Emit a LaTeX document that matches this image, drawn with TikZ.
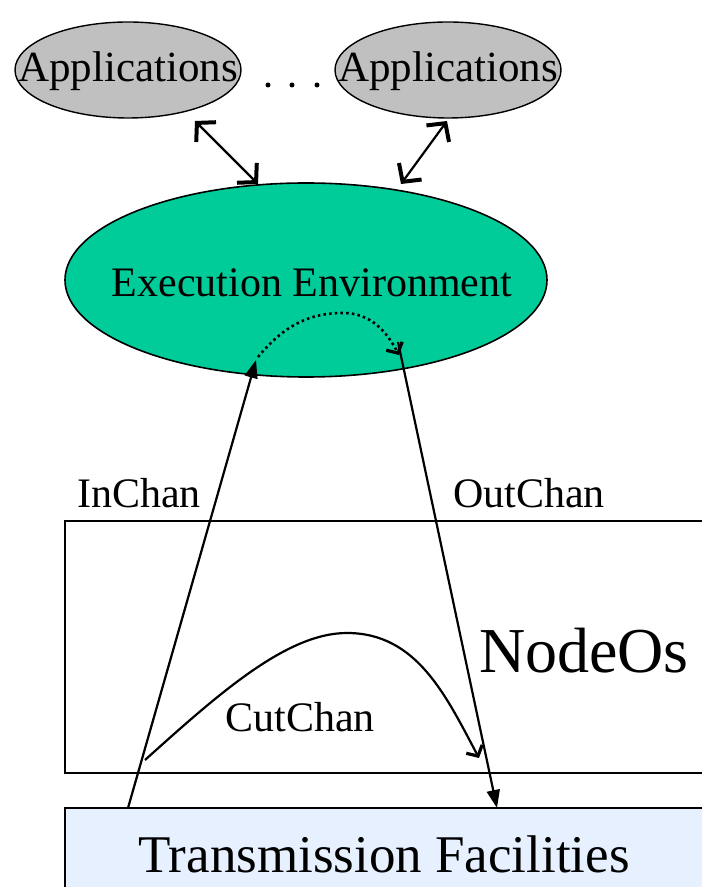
\documentclass[tikz,border=0pt]{standalone}
\usepackage{fontspec}
\setmainfont{Liberation Serif}
\usetikzlibrary{shapes.geometric,arrows.meta}
\definecolor{appgray}{RGB}{192,192,192}
\definecolor{eegreen}{RGB}{0,204,153}
\definecolor{tfblue}{RGB}{230,240,255}
\tikzset{
  appell/.style={ellipse,draw,fill=appgray,line width=1.4pt,minimum width=226pt,minimum height=96pt,inner sep=0pt},
  eeell/.style={ellipse,draw,fill=eegreen,line width=1.6pt,minimum width=482pt,minimum height=194pt,inner sep=0pt},
  labeltxt/.style={anchor=base,inner sep=0pt,font=\fontsize{42}{48}\selectfont},
  dotmark/.style={circle,fill=black,inner sep=0pt,minimum size=5pt},
  bigbarb/.tip={Straight Barb[length=13pt,width=28pt,line width=4pt]},
  smallbarb/.tip={Straight Barb[length=8pt,width=18pt,line width=3.2pt]},
  filltip/.tip={Triangle[length=18pt,width=13pt]},
  conn/.style={line width=2.2pt},
}
\begin{document}
\begin{tikzpicture}[x=1pt,y=1pt]
\useasboundingbox (0,0) rectangle (702,887);
% boxes
\draw[line width=2.6pt] (65,366) rectangle (712,114);
\node[labeltxt,font=\fontsize{64}{70}\selectfont] (nodeos) at (584,214) {NodeOs};
\draw[line width=2.6pt,fill=tfblue] (65,79) rectangle (712,-10);
\node[labeltxt,font=\fontsize{53}{60}\selectfont] (tf) at (384,15) {Transmission Facilities};
% applications
\node[appell] (app1) at (128,817) {};
\node[appell] (app2) at (448,817) {};
\node[labeltxt,font=\fontsize{43}{48}\selectfont] (app1t) at (128,805) {Applications};
\node[labeltxt,font=\fontsize{43}{48}\selectfont] (app2t) at (448,805) {Applications};
\node[dotmark] (d1) at (268,802) {};
\node[dotmark] (d2) at (292,802) {};
\node[dotmark] (d3) at (317,802) {};
% execution environment
\node[eeell] (ee) at (306,607) {};
\node[labeltxt] (eet) at (312,590) {Execution Environment};
% labels
\node[labeltxt] (inchan) at (139,379) {InChan};
\node[labeltxt] (outchan) at (529,379) {OutChan};
\node[labeltxt] (cutchan) at (300,155) {CutChan};
% coordinates
\coordinate (a1) at (195,766);
\coordinate (e1) at (258,703);
\coordinate (a2) at (447,766);
\coordinate (e2) at (401,703);
\coordinate (inS) at (128,79);
\coordinate (inE) at (256,527);
\coordinate (dS) at (258,530);
\coordinate (dP) at (343,574);
\coordinate (dE) at (399,532);
\coordinate (outS) at (398,545);
\coordinate (outE) at (497,79);
\coordinate (cS) at (145,127);
\coordinate (cP) at (347,254);
\coordinate (cE) at (479,129);
% connectors
\draw[conn,{bigbarb}-{bigbarb}] (a1) -- (e1);
\draw[conn,{bigbarb}-{bigbarb}] (a2) -- (e2);
\draw[conn,-{filltip}] (inS) -- (inE);
\draw[conn,-{filltip}] (outS) -- (outE);
\draw[line width=2.6pt,dash pattern=on 2.5pt off 3.2pt,-{smallbarb[sep=0pt]}] (dS) to[out=50,in=180] (dP) to[out=0,in=118] (dE);
\draw[conn,-{smallbarb}] (cS) .. controls +(42:100) and +(-60,0) .. (cP) .. controls +(70,0) and +(118:70) .. (cE);
\end{tikzpicture}
\end{document}
